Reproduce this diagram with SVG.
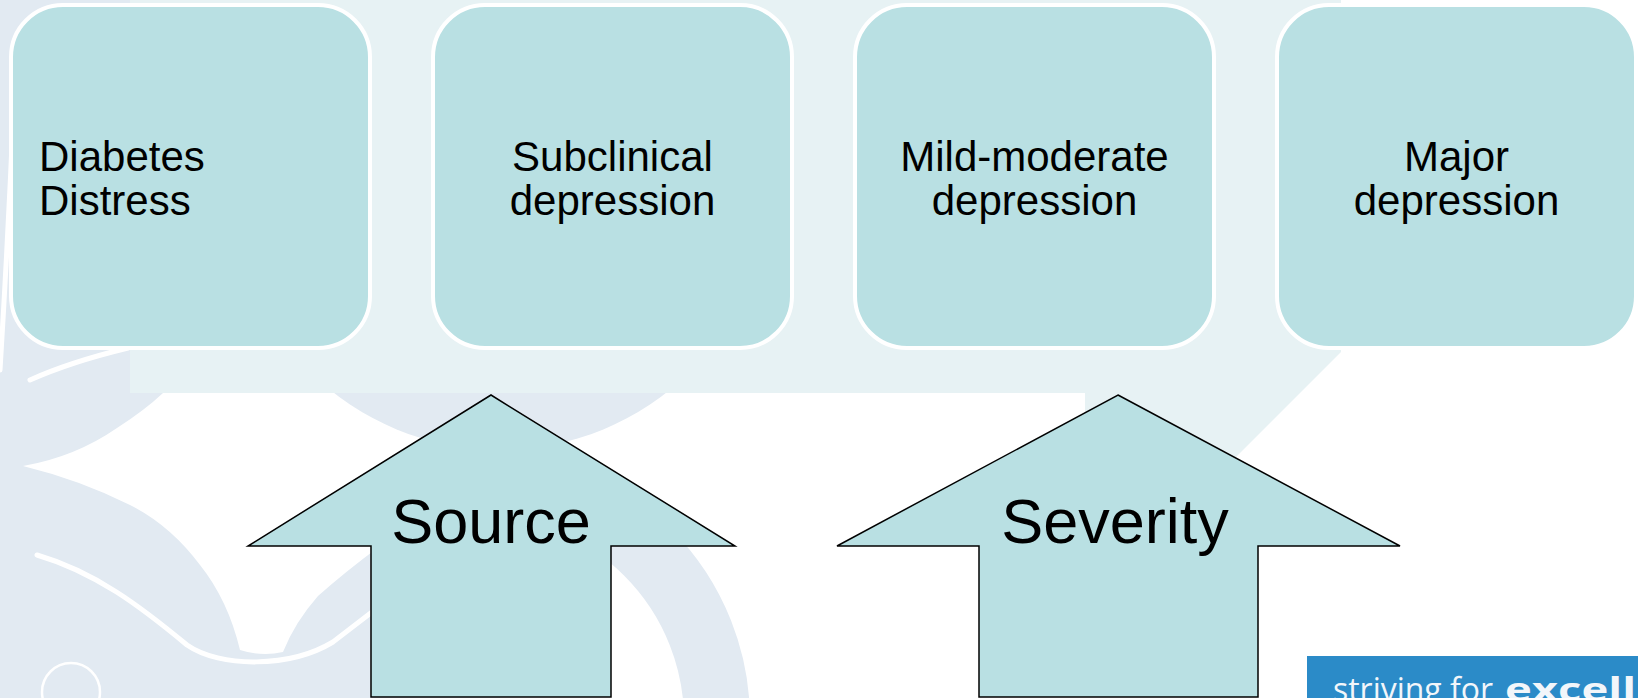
<svg xmlns="http://www.w3.org/2000/svg" width="1638" height="698" viewBox="0 0 1638 698">
  <style>
    .box{fill:#B9E0E3;stroke:#FFFFFF;stroke-width:4}
    .arrow{fill:#B9E0E3;stroke:#000000;stroke-width:1.5;stroke-linejoin:miter}
    .lbl{font-family:"Liberation Sans",Arial,sans-serif;font-size:42px;fill:#000000}
    .big{font-family:"Liberation Sans",Arial,sans-serif;font-size:63px;fill:#000000;text-anchor:middle}
    .mid{text-anchor:middle}
    .pale{fill:#E2EAF2}
    .gap{fill:none;stroke:#FFFFFF;stroke-width:5;stroke-linecap:round}
    .logo{font-family:"Open Sans","Noto Sans",sans-serif;font-size:32px;fill:#F2F6FA}
  </style>
  <defs>
    <clipPath id="clipB"><rect x="560" y="393" width="400" height="305"/></clipPath>
  </defs>

  <!-- background and watermark -->
  <g id="background">
    <rect x="0" y="0" width="1638" height="698" fill="#FFFFFF"/>
    <rect class="pale" x="0" y="0" width="500" height="698"/>
    <path fill="#FFFFFF" d="M163,393 H500 V546 H380 Q345,572 318,596 Q295,622 283,652 Q262,657 240,650 Q228,600 200,565 Q170,525 130,505 Q80,480 23,466 Q75,457 117,428 Q145,410 163,393 Z"/>
    <path class="gap" d="M37,555 C95,572 140,606 187,645 C220,668 290,668 333,642 L372,612"/>
    <circle class="pale" cx="71" cy="692" r="29" stroke="#FFFFFF" stroke-width="2.5"/>
    <circle class="pale" cx="500" cy="180" r="270"/>
    <circle cx="480" cy="720" r="237" fill="none" stroke="#E2EAF2" stroke-width="66" clip-path="url(#clipB)"/>
    <path fill="#E7F2F4" d="M130,0 H1341 V352 L1148,545 H1085 V393 H130 Z"/>
    <path class="gap" stroke-width="4" d="M30,380 Q70,362 128,348"/>
    <path class="gap" stroke-width="2.5" d="M14,100 Q8,240 0,370"/>
  </g>

  <!-- nodes -->
  <g id="node-diabetes-distress">
    <rect class="box" x="11" y="5" width="359" height="343" rx="52" ry="52"/>
    <text class="lbl" x="39" y="171">Diabetes</text>
    <text class="lbl" x="39" y="215">Distress</text>
  </g>
  <g id="node-subclinical">
    <rect class="box" x="433" y="5" width="359" height="343" rx="52" ry="52"/>
    <text class="lbl mid" x="612.5" y="171">Subclinical</text>
    <text class="lbl mid" x="612.5" y="215">depression</text>
  </g>
  <g id="node-mild-moderate">
    <rect class="box" x="855" y="5" width="359" height="343" rx="52" ry="52"/>
    <text class="lbl mid" x="1034.5" y="171">Mild-moderate</text>
    <text class="lbl mid" x="1034.5" y="215">depression</text>
  </g>
  <g id="node-major">
    <rect class="box" x="1277" y="5" width="359" height="343" rx="52" ry="52"/>
    <text class="lbl mid" x="1456.5" y="171">Major</text>
    <text class="lbl mid" x="1456.5" y="215">depression</text>
  </g>

  <!-- block arrows -->
  <g id="connectors">
    <g id="arrow-source">
      <path class="arrow" d="M491,395 L735,546 H611 V697 H371 V546 H248 Z"/>
      <text class="big" x="491" y="543">Source</text>
    </g>
    <g id="arrow-severity">
      <path class="arrow" d="M1118,395 L1400,546 H1258 V697 H979 V546 H837 Z"/>
      <text class="big" x="1115" y="543">Severity</text>
    </g>
  </g>

  <!-- footer logo -->
  <g id="logo">
    <rect x="1307" y="656" width="331" height="42" fill="#2B8BC8"/>
    <text class="logo" x="1333" y="701" textLength="160" lengthAdjust="spacingAndGlyphs">striving for</text>
    <text class="logo" x="1505" y="701" font-weight="bold" textLength="131" lengthAdjust="spacingAndGlyphs">excell</text>
  </g>
</svg>
